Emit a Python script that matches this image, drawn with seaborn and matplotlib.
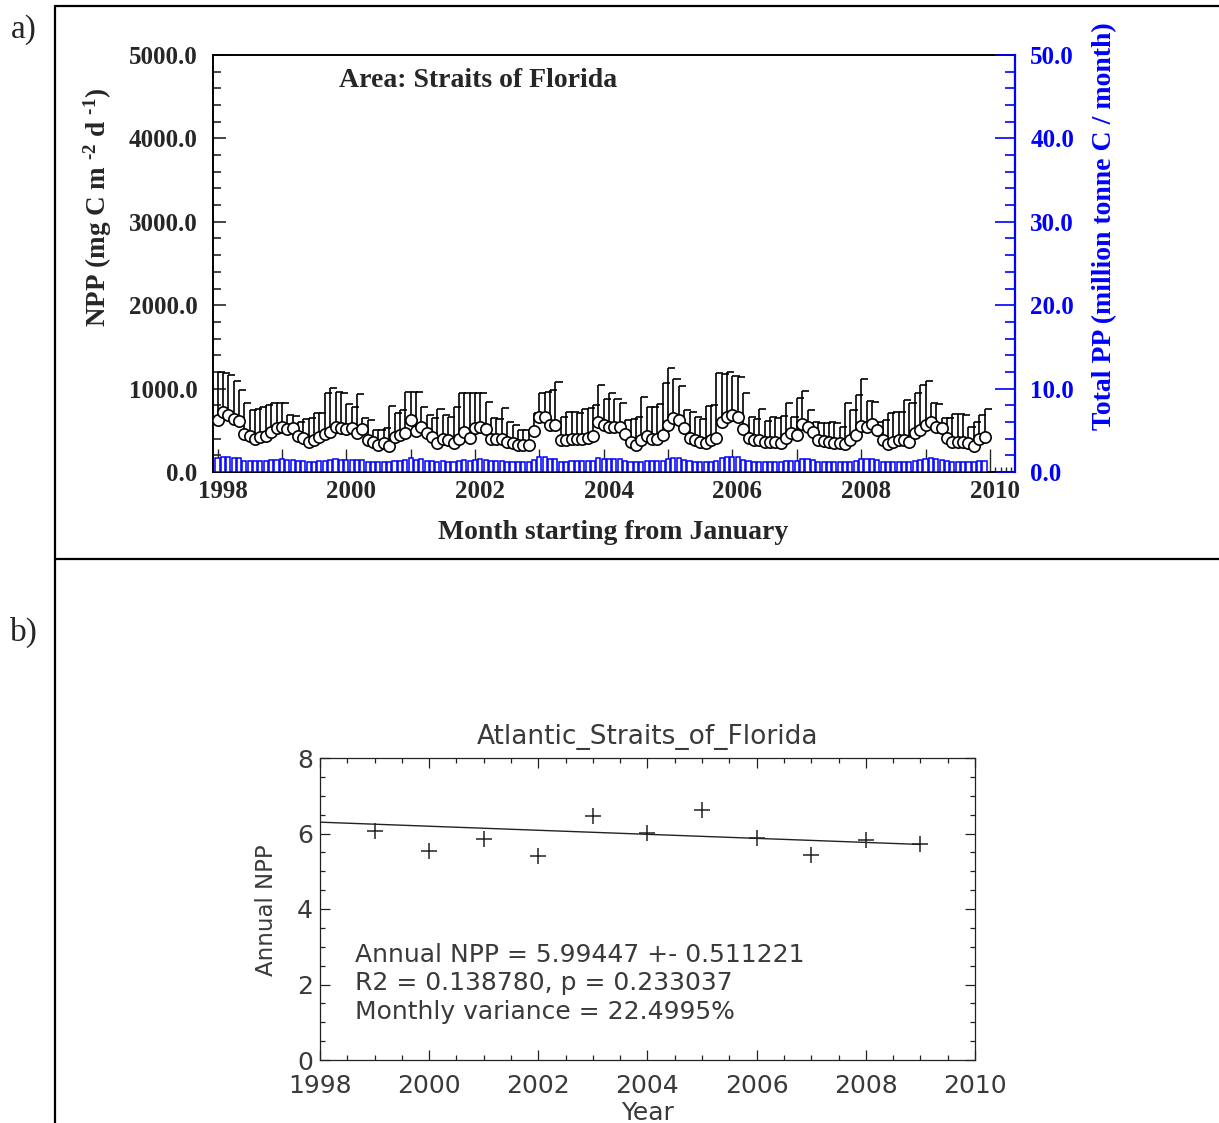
import numpy as np
import pandas as pd
import matplotlib
matplotlib.use("Agg")
import matplotlib.pyplot as plt
import seaborn as sns
from matplotlib.ticker import MultipleLocator
from matplotlib.transforms import ScaledTranslation
from matplotlib.lines import Line2D

# ---------------- data ----------------
# Monthly mean NPP (mg C m-2 d-1), Jan 1998 .. Dec 2009, one row per year
npp_1998 = [624, 724, 684, 632, 612, 456, 432, 392, 416, 432, 484, 524]
npp_1999 = [544, 512, 524, 432, 404, 364, 384, 424, 456, 484, 544, 524]
npp_2000 = [512, 524, 472, 512, 384, 364, 324, 344, 312, 416, 444, 472]
npp_2001 = [624, 496, 544, 464, 416, 352, 392, 384, 352, 392, 484, 404]
npp_2002 = [524, 544, 512, 392, 392, 392, 364, 344, 324, 324, 324, 496]
npp_2003 = [656, 664, 564, 564, 384, 384, 392, 392, 392, 404, 432, 604]
npp_2004 = [564, 544, 544, 544, 456, 364, 324, 384, 432, 392, 392, 444]
npp_2005 = [564, 644, 624, 524, 404, 384, 364, 352, 384, 404, 604, 656]
npp_2006 = [684, 656, 518, 404, 384, 384, 364, 364, 364, 344, 404, 472]
npp_2007 = [444, 576, 544, 484, 384, 376, 364, 352, 344, 336, 384, 444]
npp_2008 = [552, 536, 576, 498, 384, 336, 364, 384, 384, 364, 472, 504]
npp_2009 = [564, 604, 544, 524, 404, 364, 364, 364, 352, 312, 392, 424]

# Upper end of the error bar (mean + std)
top_1998 = [1204, 1184, 1164, 1096, 984, 832, 744, 752, 776, 804, 832, 832]
top_1999 = [824, 684, 672, 604, 632, 644, 704, 704, 944, 1004, 964, 944]
top_2000 = [816, 784, 936, 644, 624, 504, 504, 524, 792, 712, 744, 964]
top_2001 = [964, 964, 784, 684, 644, 752, 684, 664, 784, 944, 944, 944]
top_2002 = [944, 944, 844, 644, 632, 764, 604, 564, 504, 504, 504, 712]
top_2003 = [944, 964, 984, 1084, 656, 724, 724, 704, 752, 764, 800, 1044]
top_2004 = [880, 944, 872, 824, 624, 632, 664, 896, 784, 776, 816, 1072]
top_2005 = [1244, 1112, 1032, 744, 724, 656, 632, 792, 804, 1192, 1176, 1204]
top_2006 = [1150, 1140, 944, 656, 632, 752, 616, 664, 644, 672, 824, 664]
top_2007 = [884, 976, 744, 604, 584, 584, 604, 584, 544, 824, 744, 924]
top_2008 = [1112, 856, 844, 604, 624, 712, 724, 724, 864, 832, 944, 1044]
top_2009 = [1096, 824, 816, 644, 644, 696, 696, 684, 544, 600, 680, 752]

# Total monthly PP (million tonne C / month)
tpp_1998 = [1.7, 1.8, 1.8, 1.7, 1.7, 1.3, 1.3, 1.3, 1.3, 1.3, 1.4, 1.4]
tpp_1999 = [1.5, 1.4, 1.4, 1.3, 1.3, 1.2, 1.2, 1.3, 1.3, 1.4, 1.5, 1.4]
tpp_2000 = [1.4, 1.4, 1.4, 1.4, 1.2, 1.2, 1.2, 1.2, 1.2, 1.3, 1.3, 1.4]
tpp_2001 = [1.7, 1.4, 1.5, 1.3, 1.3, 1.2, 1.3, 1.2, 1.2, 1.3, 1.4, 1.3]
tpp_2002 = [1.4, 1.5, 1.4, 1.3, 1.3, 1.3, 1.2, 1.2, 1.2, 1.2, 1.2, 1.4]
tpp_2003 = [1.8, 1.8, 1.5, 1.5, 1.2, 1.2, 1.3, 1.3, 1.3, 1.3, 1.3, 1.7]
tpp_2004 = [1.5, 1.5, 1.5, 1.5, 1.3, 1.2, 1.2, 1.2, 1.3, 1.3, 1.3, 1.3]
tpp_2005 = [1.5, 1.7, 1.7, 1.4, 1.3, 1.2, 1.2, 1.2, 1.2, 1.3, 1.7, 1.8]
tpp_2006 = [1.8, 1.8, 1.4, 1.3, 1.2, 1.2, 1.2, 1.2, 1.2, 1.2, 1.3, 1.3]
tpp_2007 = [1.3, 1.6, 1.5, 1.4, 1.2, 1.2, 1.2, 1.2, 1.2, 1.2, 1.2, 1.3]
tpp_2008 = [1.5, 1.5, 1.6, 1.4, 1.2, 1.2, 1.2, 1.2, 1.2, 1.2, 1.3, 1.4]
tpp_2009 = [1.5, 1.7, 1.5, 1.4, 1.3, 1.2, 1.2, 1.2, 1.2, 1.2, 1.3, 1.3]

first_year = 1998
left_ticks = [0, 1000, 2000, 3000, 4000, 5000]
right_ticks = [0, 10, 20, 30, 40, 50]
year_ticks = list(range(1998, 2011))
year_labels = ["1998", "", "2000", "", "2002", "", "2004", "", "2006", "", "2008", "", "2010"]

# Annual NPP summary
annual_years = [1999, 2000, 2001, 2002, 2003, 2004, 2005, 2006, 2007, 2008, 2009]
annual_npp = [6.06, 5.53, 5.86, 5.41, 6.47, 6.01, 6.63, 5.88, 5.44, 5.82, 5.71]
trend_years = [1998, 2009]
trend_npp = [6.30, 5.71]
b_xticks = [1998, 2000, 2002, 2004, 2006, 2008, 2010]
b_yticks = [0, 2, 4, 6, 8]
stats_lines = ["Annual NPP = 5.99447 +- 0.511221",
               "R2 = 0.138780, p = 0.233037",
               "Monthly variance = 22.4995%"]

npp = np.concatenate([npp_1998, npp_1999, npp_2000, npp_2001, npp_2002, npp_2003,
                      npp_2004, npp_2005, npp_2006, npp_2007, npp_2008, npp_2009])
top = np.concatenate([top_1998, top_1999, top_2000, top_2001, top_2002, top_2003,
                      top_2004, top_2005, top_2006, top_2007, top_2008, top_2009])
tpp = np.concatenate([tpp_1998, tpp_1999, tpp_2000, tpp_2001, tpp_2002, tpp_2003,
                      tpp_2004, tpp_2005, tpp_2006, tpp_2007, tpp_2008, tpp_2009])
t = first_year + np.arange(len(npp)) / 12.0
monthly = pd.DataFrame({"t": t, "npp": npp, "top": top, "tpp": tpp})

# ---------------- style ----------------
sns.set_style("white")
plt.rcParams["font.family"] = ["Liberation Serif", "DejaVu Serif"]
plt.rcParams["mathtext.default"] = "regular"

W, H = 1219, 1123
fig = plt.figure(figsize=(W / 100, H / 100), dpi=100)

def frac_box(l, t_, r, b):
    return [l / W, 1 - b / H, (r - l) / W, (b - t_) / H]

# panel frame lines
frame_kw = dict(color="black", lw=1.6, transform=fig.transFigure)
fig.add_artist(Line2D([55 / W, 55 / W], [0, 1 - 6 / H], **frame_kw))
fig.add_artist(Line2D([55 / W, 1], [1 - 6 / H, 1 - 6 / H], **frame_kw))
fig.add_artist(Line2D([55 / W, 1], [1 - 559 / H, 1 - 559 / H], **frame_kw))
fig.text(24 / W, 1 - 30 / H, "a)", fontsize=24, ha="center", va="center")
fig.text(24 / W, 1 - 632 / H, "b)", fontsize=24, ha="center", va="center")

# ---------------- panel a ----------------
ax = fig.add_axes(frac_box(213, 55, 1015, 472))
ax.set_xlim(1997.93, 2010.39)
ax.set_ylim(0, 5000)

# error bars: vertical stem plus a cap extending to the right
ax.vlines(monthly["t"], monthly["npp"], monthly["top"], color="black", lw=1.2, zorder=2)
ax.hlines(monthly["top"], monthly["t"], monthly["t"] + 0.11, color="black", lw=1.2, zorder=2)
sns.scatterplot(data=monthly, x="t", y="npp", ax=ax, s=66, marker="o",
                facecolor="white", edgecolor="black", linewidth=1.2, zorder=3, legend=False)

ax.set_yticks(left_ticks)
ax.set_yticklabels([f"{v:.1f}" for v in left_ticks], fontsize=18, fontweight="bold")
ax.yaxis.set_minor_locator(MultipleLocator(200))
ax.set_xticks(year_ticks)
ax.set_xticklabels(year_labels, fontsize=18, fontweight="bold")
ax.xaxis.set_minor_locator(MultipleLocator(1 / 12))
ax.tick_params(axis="y", which="major", direction="in", length=9.5, width=1.2, pad=11, left=True)
ax.tick_params(axis="y", which="minor", direction="in", length=5.8, width=1.2, left=True)
ax.tick_params(axis="x", which="major", direction="in", length=16.5, width=1.0, pad=6, bottom=True)
ax.tick_params(axis="x", which="minor", direction="in", length=3.6, width=1.0, bottom=True)
for lbl in ax.get_xticklabels():
    lbl.set_transform(lbl.get_transform() + ScaledTranslation(0.05, 0, fig.dpi_scale_trans))
for side in ["left", "bottom", "top"]:
    ax.spines[side].set_color("black")
    ax.spines[side].set_linewidth(1.4)
ax.spines["right"].set_visible(False)
ax.set_xlabel("")
ax.set_ylabel("")

ax2 = ax.twinx()
ax2.set_ylim(0, 50)
ax2.bar(monthly["t"], monthly["tpp"], width=0.064, facecolor="white",
        edgecolor="blue", linewidth=1.1, zorder=2)
ax2.set_yticks(right_ticks)
ax2.set_yticklabels([f"{v:.1f}" for v in right_ticks], fontsize=18,
                    fontweight="bold", color="blue")
ax2.yaxis.set_minor_locator(MultipleLocator(2))
ax2.tick_params(axis="y", which="major", direction="in", length=14.4, width=1.2,
                colors="blue", pad=11, right=True)
ax2.tick_params(axis="y", which="minor", direction="in", length=7.2, width=1.2,
                colors="blue", right=True)
for side in ["left", "bottom", "top"]:
    ax2.spines[side].set_visible(False)
ax2.spines["right"].set_color("blue")
ax2.spines["right"].set_linewidth(1.6)
ax2.set_ylabel("")

ax.text(0.331, 0.94, "Area: Straits of Florida", transform=ax.transAxes,
        fontsize=20, fontweight="bold", ha="center", va="center")
ax.text(-0.1434, 0.634, "NPP (mg C m $^{\u20102}$ d $^{\u20101}$)", transform=ax.transAxes,
        fontsize=19.5, fontweight="bold", rotation=90, ha="center", va="center")
ax.text(1.112, 0.59, "Total PP (million tonne C / month)", transform=ax.transAxes,
        fontsize=20, fontweight="bold", color="blue", rotation=90, ha="center", va="center")
ax.text(0.499, -0.146, "Month starting from January", transform=ax.transAxes,
        fontsize=20, fontweight="bold", ha="center", va="center")

# ---------------- panel b ----------------
sans = ["DejaVu Sans"]
ink = "#3a3a3a"
bx = fig.add_axes(frac_box(320, 758, 975, 1060))
bx.set_xlim(1998, 2010)
bx.set_ylim(0, 8)
sns.lineplot(x=trend_years, y=trend_npp, ax=bx, color="#222222", lw=1.0)
sns.scatterplot(x=annual_years, y=annual_npp, ax=bx, marker="+", s=120,
                color="#222222", linewidth=1.1, legend=False)
bx.set_xticks(b_xticks)
bx.set_xticklabels([str(v) for v in b_xticks], fontsize=18, family=sans, color=ink)
bx.set_yticks(b_yticks)
bx.set_yticklabels([str(v) for v in b_yticks], fontsize=18, family=sans, color=ink)
bx.xaxis.set_minor_locator(MultipleLocator(0.5))
bx.yaxis.set_minor_locator(MultipleLocator(0.5))
bx.tick_params(which="major", direction="in", length=7.2, width=0.9, color="#222222",
               top=True, right=True, bottom=True, left=True)
bx.tick_params(which="minor", direction="in", length=3.6, width=0.9, color="#222222",
               top=True, right=True, bottom=True, left=True)
bx.tick_params(axis="x", pad=10)
bx.tick_params(axis="y", pad=5)
for s in bx.spines.values():
    s.set_color("#222222")
    s.set_linewidth(0.9)
bx.set_xlabel("")
bx.set_ylabel("")
bx.text(0.5, 1.0695, "Atlantic_Straits_of_Florida", transform=bx.transAxes,
        fontsize=19, family=sans, color=ink, ha="center", va="center")
bx.text(-0.081, 0.497, "Annual NPP", transform=bx.transAxes, rotation=90,
        fontsize=16.5, family=sans, color=ink, ha="center", va="center")
bx.text(0.5, -0.175, "Year", transform=bx.transAxes,
        fontsize=18, family=sans, color=ink, ha="center", va="center")
for line, yy in zip(stats_lines, [0.348, 0.255, 0.159]):
    bx.text(0.0534, yy, line, transform=bx.transAxes, fontsize=18, family=sans,
            color=ink, ha="left", va="center")

fig.savefig("out.png", dpi=100)
